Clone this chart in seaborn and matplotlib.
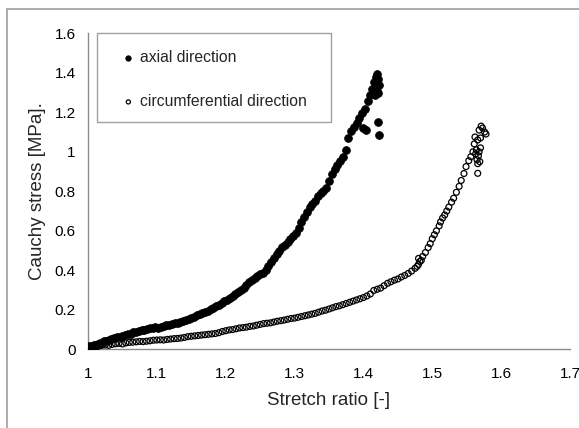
import matplotlib
matplotlib.use("Agg")
import matplotlib.pyplot as plt
import seaborn as sns
import pandas as pd
from matplotlib.lines import Line2D
from matplotlib.patches import Rectangle
from matplotlib.ticker import FuncFormatter

# ---------------- data ----------------
axial_x = [
    1.000, 1.002, 1.004, 1.006, 1.008, 1.010, 1.012, 1.014, 1.017, 1.020,
    1.023, 1.026, 1.030, 1.034, 1.038, 1.042, 1.046, 1.050, 1.054, 1.058,
    1.062, 1.066, 1.070, 1.074, 1.078, 1.082, 1.086, 1.090, 1.094, 1.098,
    1.102, 1.106, 1.110, 1.114, 1.118, 1.122, 1.126, 1.130, 1.134, 1.138,
    1.142, 1.146, 1.150, 1.154, 1.158, 1.162, 1.166, 1.170, 1.174, 1.178,
    1.182, 1.186, 1.190, 1.194, 1.198, 1.202, 1.206, 1.210, 1.214, 1.218,
    1.222, 1.226, 1.230, 1.234, 1.238, 1.242, 1.246, 1.250, 1.254, 1.258,
    1.262, 1.266, 1.270, 1.274, 1.278, 1.282, 1.286, 1.290, 1.294, 1.298,
    1.302, 1.306, 1.310, 1.314, 1.318, 1.322, 1.326, 1.330, 1.334, 1.338,
    1.342, 1.346, 1.350, 1.354, 1.358, 1.362, 1.366, 1.370, 1.374, 1.378,
    1.382, 1.386, 1.390, 1.394, 1.398, 1.402, 1.406, 1.410, 1.413, 1.416,
    1.418, 1.420, 1.421, 1.422, 1.419, 1.417, 1.421, 1.421, 1.422, 1.404,
    1.400,
]
axial_y = [
    0.013, 0.015, 0.012, 0.018, 0.020, 0.022, 0.019, 0.026, 0.030, 0.033,
    0.040, 0.042, 0.048, 0.050, 0.056, 0.062, 0.060, 0.068, 0.072, 0.078,
    0.080, 0.088, 0.090, 0.094, 0.098, 0.100, 0.103, 0.106, 0.108, 0.112,
    0.110, 0.114, 0.118, 0.122, 0.124, 0.128, 0.132, 0.135, 0.140, 0.144,
    0.150, 0.154, 0.160, 0.166, 0.172, 0.178, 0.184, 0.190, 0.196, 0.204,
    0.210, 0.218, 0.226, 0.234, 0.244, 0.252, 0.262, 0.272, 0.280, 0.290,
    0.300, 0.312, 0.325, 0.340, 0.350, 0.360, 0.370, 0.380, 0.388, 0.402,
    0.420, 0.440, 0.462, 0.484, 0.500, 0.516, 0.530, 0.545, 0.558, 0.572,
    0.590, 0.615, 0.645, 0.668, 0.695, 0.720, 0.735, 0.752, 0.775, 0.790,
    0.800, 0.815, 0.850, 0.890, 0.915, 0.935, 0.955, 0.975, 1.010, 1.070,
    1.105, 1.125, 1.145, 1.170, 1.195, 1.215, 1.255, 1.290, 1.320, 1.355,
    1.380, 1.395, 1.370, 1.340, 1.310, 1.290, 1.300, 1.152, 1.085, 1.110,
    1.120,
]

circ_x = [
    1.000, 1.004, 1.008, 1.012, 1.016, 1.020, 1.025, 1.030, 1.035, 1.040,
    1.045, 1.050, 1.055, 1.060, 1.065, 1.070, 1.075, 1.080, 1.085, 1.090,
    1.095, 1.100, 1.105, 1.110, 1.115, 1.120, 1.125, 1.130, 1.135, 1.140,
    1.145, 1.150, 1.155, 1.160, 1.165, 1.170, 1.175, 1.180, 1.185, 1.190,
    1.195, 1.200, 1.205, 1.210, 1.215, 1.220, 1.225, 1.230, 1.235, 1.240,
    1.245, 1.250, 1.255, 1.260, 1.265, 1.270, 1.275, 1.280, 1.285, 1.290,
    1.295, 1.300, 1.305, 1.310, 1.315, 1.320, 1.325, 1.330, 1.335, 1.340,
    1.345, 1.350, 1.355, 1.360, 1.365, 1.370, 1.375, 1.380, 1.385, 1.390,
    1.395, 1.400, 1.405, 1.410, 1.415, 1.420, 1.425, 1.430, 1.435, 1.440,
    1.445, 1.450, 1.455, 1.460, 1.465, 1.470, 1.475, 1.478, 1.480, 1.482,
    1.480, 1.484, 1.486, 1.490, 1.494, 1.497, 1.500, 1.503, 1.506, 1.510,
    1.512, 1.515, 1.518, 1.521, 1.524, 1.528, 1.531, 1.535, 1.539, 1.542,
    1.546, 1.549, 1.553, 1.556, 1.559, 1.561, 1.564, 1.565, 1.566, 1.567,
    1.568, 1.569, 1.570, 1.566, 1.568, 1.571, 1.573, 1.576, 1.578, 1.563,
    1.566, 1.562, 1.570,
]
circ_y = [
    0.013, 0.012, 0.016, 0.018, 0.015, 0.020, 0.022, 0.020, 0.025, 0.028,
    0.030, 0.027, 0.032, 0.035, 0.036, 0.038, 0.040, 0.039, 0.041, 0.043,
    0.046, 0.047, 0.048, 0.047, 0.050, 0.052, 0.054, 0.055, 0.057, 0.060,
    0.064, 0.066, 0.068, 0.070, 0.072, 0.074, 0.076, 0.078, 0.080, 0.084,
    0.090, 0.094, 0.098, 0.100, 0.104, 0.108, 0.110, 0.112, 0.116, 0.118,
    0.122, 0.126, 0.130, 0.132, 0.134, 0.138, 0.142, 0.145, 0.148, 0.152,
    0.156, 0.158, 0.162, 0.166, 0.170, 0.174, 0.178, 0.182, 0.188, 0.194,
    0.198, 0.204, 0.210, 0.216, 0.220, 0.226, 0.232, 0.238, 0.244, 0.250,
    0.256, 0.262, 0.270, 0.280, 0.298, 0.304, 0.310, 0.322, 0.334, 0.342,
    0.350, 0.356, 0.366, 0.374, 0.384, 0.396, 0.410, 0.420, 0.430, 0.445,
    0.460, 0.450, 0.470, 0.490, 0.515, 0.535, 0.560, 0.580, 0.600, 0.625,
    0.645, 0.665, 0.680, 0.700, 0.720, 0.745, 0.765, 0.795, 0.825, 0.855,
    0.890, 0.925, 0.955, 0.975, 1.000, 1.040, 1.010, 0.960, 0.940, 0.980,
    1.000, 0.950, 1.020, 1.060, 1.110, 1.130, 1.120, 1.100, 1.090, 0.990,
    0.891, 1.075, 1.070,
]

series_labels = ["axial direction", "circumferential direction"]
x_label = "Stretch ratio [-]"
y_label = "Cauchy stress [MPa]."
x_ticks = [1.0, 1.1, 1.2, 1.3, 1.4, 1.5, 1.6, 1.7]
y_ticks = [0, 0.2, 0.4, 0.6, 0.8, 1.0, 1.2, 1.4, 1.6]

# ---------------- styling ----------------
sns.set_style("white")
plt.rcParams["font.family"] = ["Liberation Sans", "DejaVu Sans"]

W, H = 579, 428
fig = plt.figure(figsize=(W / 100, H / 100), dpi=100)
ax = fig.add_axes([88 / W, 1 - 349.3 / H, (570 - 88) / W, (349.3 - 33.3) / H])

df_ax = pd.DataFrame({"x": axial_x, "y": axial_y})
df_ci = pd.DataFrame({"x": circ_x, "y": circ_y})

sns.scatterplot(data=df_ci, x="x", y="y", ax=ax, marker="o", s=18,
                facecolors="none", edgecolor="black", linewidth=0.9,
                label=series_labels[1], zorder=3)
sns.scatterplot(data=df_ax, x="x", y="y", ax=ax, marker="o", s=32,
                color="black", edgecolor="black", linewidth=0.5,
                label=series_labels[0], zorder=4)

ax.set_xlim(1.0, 1.7)
ax.set_ylim(0, 1.6)
ax.set_xticks(x_ticks)
ax.set_yticks(y_ticks)
fmt = FuncFormatter(lambda v, p: ("%g" % round(v, 2)))
ax.xaxis.set_major_formatter(fmt)
ax.yaxis.set_major_formatter(fmt)

grey = "#8c8c8c"
for side in ["top", "right"]:
    ax.spines[side].set_visible(False)
for side in ["left", "bottom"]:
    ax.spines[side].set_color(grey)
    ax.spines[side].set_linewidth(1.0)
ax.tick_params(axis="both", direction="out", length=4, width=1.0,
               color=grey, labelsize=11, labelcolor="black")
ax.tick_params(axis="y", pad=5)
ax.tick_params(axis="x", pad=9)

ax.set_xlabel(x_label, fontsize=13.5, labelpad=8)
ax.set_ylabel(y_label, fontsize=13.5, labelpad=6)

# legend box
ax.add_patch(Rectangle(((97 - 88) / 482, (349.3 - 122) / 316),
                       (331 - 97) / 482, (122 - 33) / 316,
                       transform=ax.transAxes, fill=False,
                       edgecolor="#a0a0a0", linewidth=1.0, clip_on=False,
                       zorder=5))
handles, labels = ax.get_legend_handles_labels()
order = [labels.index(series_labels[0]), labels.index(series_labels[1])]
ax.legend([handles[i] for i in order], [labels[i] for i in order],
          loc="upper left", bbox_to_anchor=((120.5 - 88) / 482, (349.3 - 50) / 316),
          frameon=False, borderpad=0, borderaxespad=0, handlelength=1.0,
          handletextpad=0.25, labelspacing=1.85, fontsize=11.3,
          markerscale=0.7)

# outer figure border (left and top edges visible)
fig.add_artist(Line2D([7 / W, 7 / W], [0, 1 - 9 / H], transform=fig.transFigure,
                      color="#a0a0a0", linewidth=1.2))
fig.add_artist(Line2D([7 / W, 1], [1 - 9 / H, 1 - 9 / H], transform=fig.transFigure,
                      color="#a0a0a0", linewidth=1.2))

fig.savefig("out.png", dpi=100)
